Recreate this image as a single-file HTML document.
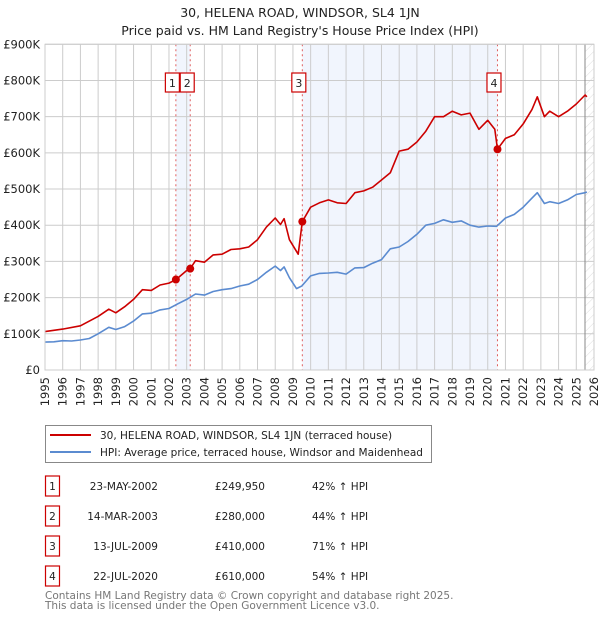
<!DOCTYPE html>
<html><head><meta charset="utf-8"><style>
body{margin:0;background:#fff;}
svg{display:block;font-family:"DejaVu Sans","Liberation Sans",sans-serif;}
</style></head><body>
<svg id="chart" width="600" height="620" viewBox="0 0 600 620" xmlns="http://www.w3.org/2000/svg">
<defs>
<pattern id="hatch" patternUnits="userSpaceOnUse" width="6" height="6" patternTransform="rotate(45)">
<line x1="0" y1="0" x2="0" y2="6" stroke="#ddd" stroke-width="1"/>
</pattern>
</defs>
<text x="300" y="17" text-anchor="middle" font-size="12.5" fill="#222">30, HELENA ROAD, WINDSOR, SL4 1JN</text>
<text x="300" y="35" text-anchor="middle" font-size="12.5" fill="#222">Price paid vs. HM Land Registry's House Price Index (HPI)</text>
<g id="plot"></g>
<g>
<rect x="45.5" y="425.5" width="386" height="37" fill="#fff" stroke="#888"/>
<line x1="50" y1="435" x2="91" y2="435" stroke="#cc0000" stroke-width="2"/>
<text x="100" y="439" font-size="10.5" fill="#222">30, HELENA ROAD, WINDSOR, SL4 1JN (terraced house)</text>
<line x1="50" y1="452" x2="91" y2="452" stroke="#5b8bd0" stroke-width="2"/>
<text x="100" y="456" font-size="10.5" fill="#222">HPI: Average price, terraced house, Windsor and Maidenhead</text>
</g>
<g id="table" font-size="10.5" fill="#222"></g>
<text x="45" y="599" font-size="10.5" fill="#777">Contains HM Land Registry data © Crown copyright and database right 2025.</text>
<text x="45" y="609" font-size="10.5" fill="#777">This data is licensed under the Open Government Licence v3.0.</text>
</svg>
<script>
const hpiYears=[1995,1995.5,1996,1996.5,1997,1997.5,1998,1998.6,1999,1999.5,2000,2000.5,2001,2001.5,2002,2002.5,2003,2003.5,2004,2004.5,2005,2005.5,2006,2006.5,2007,2007.5,2008,2008.3,2008.5,2008.8,2009.2,2009.5,2010,2010.5,2011,2011.5,2012,2012.5,2013,2013.5,2014,2014.5,2015,2015.5,2016,2016.5,2017,2017.5,2018,2018.5,2019,2019.5,2020,2020.5,2021,2021.5,2022,2022.5,2022.8,2023.2,2023.5,2024,2024.5,2025,2025.5,2025.6];
const hpiValues=[77,78,81,80,83,87,100,118,112,120,135,155,157,166,170,183,195,210,207,217,222,225,232,237,250,270,287,275,285,255,225,232,260,267,268,270,265,282,283,295,305,335,340,355,375,400,405,415,408,412,400,395,398,397,420,430,450,475,490,460,465,460,470,485,490,492];
const priceYears=[1995,1996,1997,1998,1998.6,1999,1999.5,2000,2000.5,2001,2001.5,2002,2002.4,2003,2003.2,2003.5,2004,2004.5,2005,2005.5,2006,2006.5,2007,2007.5,2008,2008.3,2008.5,2008.8,2009.3,2009.53,2010,2010.5,2011,2011.5,2012,2012.5,2013,2013.5,2014,2014.5,2015,2015.5,2016,2016.5,2017,2017.5,2018,2018.5,2019,2019.5,2020,2020.4,2020.55,2021,2021.5,2022,2022.5,2022.8,2023.2,2023.5,2024,2024.5,2025,2025.5,2025.6];
const priceValues=[106,113,122,148,168,158,175,195,222,220,235,240,250,275,280,302,298,318,320,333,335,340,360,395,420,402,418,360,320,410,450,462,470,462,460,490,495,505,525,545,605,610,630,660,700,700,715,705,710,665,690,665,610,640,650,680,720,755,700,715,700,715,735,760,755];
const saleYears=[2002.39,2003.2,2009.53,2020.55];
const saleValues=[249.95,280,410,610];
const saleLabels=["1","2","3","4"];
const saleDates=["23-MAY-2002","14-MAR-2003","13-JUL-2009","22-JUL-2020"];
const salePrices=["£249,950","£280,000","£410,000","£610,000"];
const saleHpi=["42% ↑ HPI","44% ↑ HPI","71% ↑ HPI","54% ↑ HPI"];
const yTicks=[0,100,200,300,400,500,600,700,800,900];
const yTickLabels=["£0","£100K","£200K","£300K","£400K","£500K","£600K","£700K","£800K","£900K"];
const xTicks=[1995,1996,1997,1998,1999,2000,2001,2002,2003,2004,2005,2006,2007,2008,2009,2010,2011,2012,2013,2014,2015,2016,2017,2018,2019,2020,2021,2022,2023,2024,2025,2026];

const NS="http://www.w3.org/2000/svg";
const X0=45,X1=594,Y0=370,Y1=44.3;
const xs=y=>X0+(y-1995)/(2026-1995)*(X1-X0);
const ys=v=>Y0-v/900*(Y0-Y1);
const plot=document.getElementById('plot');
function mk(tag,attrs,parent){const e=document.createElementNS(NS,tag);for(const k in attrs)e.setAttribute(k,attrs[k]);(parent||plot).appendChild(e);return e;}

let bg=mk('rect',{x:X0,y:Y1,width:X1-X0,height:Y0-Y1,fill:'#fff'});


[[0,1],[2,3]].forEach((p,i)=>{
 const r=mk('rect',{x:xs(saleYears[p[0]]),y:Y1,width:xs(saleYears[p[1]])-xs(saleYears[p[0]]),height:Y0-Y1,fill:'#eef3fd',opacity:0.8});
 
 
});
let h=mk('rect',{x:585,y:Y1,width:X1-585,height:Y0-Y1,fill:'url(#hatch)'});


xTicks.forEach(t=>{const l=mk('line',{x1:xs(t),x2:xs(t),y1:Y1,y2:Y0,stroke:'#ccc','stroke-width':1});
 
 
 const tx=mk('text',{x:0,y:0,'font-size':11.5,fill:'#222','text-anchor':'end',transform:`translate(${xs(t)+4},377) rotate(-90)`});tx.textContent=t;
 
 
});
yTicks.forEach((t,i)=>{const l=mk('line',{x1:X0,x2:X1,y1:ys(t),y2:ys(t),stroke:'#ccc','stroke-width':1});
 
 
 const tx=mk('text',{x:X0-5,y:ys(t)+4,'font-size':11.5,fill:'#222','text-anchor':'end'});tx.textContent=yTickLabels[i];
 
 
});
let nl=mk('line',{x1:585,x2:585,y1:Y1,y2:Y0,stroke:'#888','stroke-width':1});


saleYears.forEach(s=>{const l=mk('line',{x1:xs(s),x2:xs(s),y1:Y1,y2:Y0,stroke:'#e06060','stroke-width':1,'stroke-dasharray':'2,3'});
 
 
});
function path(xa,va,color,name){const d=xa.map((x,i)=>(i?'L':'M')+xs(x).toFixed(1)+','+ys(va[i]).toFixed(1)).join('');
 const p=mk('path',{d:d,fill:'none',stroke:color,'stroke-width':1.6,'stroke-linejoin':'round'});
 
 }
path(hpiYears,hpiValues,'#5b8bd0','hpi-line');
path(priceYears,priceValues,'#cc0000','price-line');
saleYears.forEach((s,i)=>{const c=mk('circle',{cx:xs(s),cy:ys(saleValues[i]),r:4,fill:'#cc0000'});
 
 
 let bx=xs(s)-10.5; if(i===1) bx=xs(s)-10;
 const g=mk('g',{});
 
 
 mk('rect',{x:bx,y:73,width:14,height:19,fill:'#fff',stroke:'#cc0000','stroke-width':1.2},g);
 const t=mk('text',{x:bx+7,y:87,'text-anchor':'middle','font-size':11,fill:'#222'},g);t.textContent=saleLabels[i];
});
let ax=mk('rect',{x:X0,y:Y1,width:X1-X0,height:Y0-Y1,fill:'none',stroke:'#ccc'});


const tb=document.getElementById('table');
saleLabels.forEach((l,i)=>{const y=483+i*30;
 const g=mk('g',{},tb);
 
 
 mk('rect',{x:45.5,y:y-7,width:14,height:20,fill:'#fff',stroke:'#cc0000','stroke-width':1.2},g);
 const cells=[[52.5,l,'middle'],[158,saleDates[i],'end'],[265,salePrices[i],'end'],[312,saleHpi[i],'start']];
 cells.forEach(c=>{const t=mk('text',{x:c[0],y:y+7,'text-anchor':c[2],'font-size':10.5,fill:'#222'},g);t.textContent=c[1];});
});
</script>
</body></html>
